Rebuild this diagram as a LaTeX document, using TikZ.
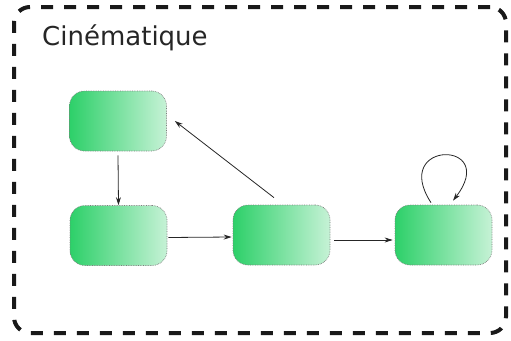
\documentclass[tikz,border=0pt]{standalone}
\usepackage{fontspec}
\setmainfont{DejaVu Sans}
\usetikzlibrary{arrows.meta,calc}
\definecolor{gL}{RGB}{45,208,105}
\definecolor{gR}{RGB}{198,242,214}
\definecolor{edgegray}{RGB}{125,125,125}
\tikzset{
  state/.style={rounded corners=15pt, minimum width=97pt, minimum height=60pt, inner sep=0pt,
    left color=gL, right color=gR, draw=edgegray, densely dotted, line width=0.7pt},
  conn/.style={-{Stealth[length=8pt,width=5pt]}, line width=0.8pt, draw=black!85, solid},
  frame/.style={draw=black!90, line width=4pt, dash pattern=on 12pt off 11pt, rounded corners=16pt,
    minimum width=492pt, minimum height=326pt, inner sep=0pt}
}
\begin{document}
\begin{tikzpicture}[x=1pt,y=-1pt]
\useasboundingbox (0,0) rectangle (511,340);
\node[frame] (frame) at (260,170) {};
\node[anchor=base west, inner sep=0pt, font=\fontsize{26}{30}\selectfont, text=black!85] (title) at (42,45) {Cinématique};
\node[state] (A) at (118,121) {};
\node[state] (B) at (118.5,235.5) {};
\node[state] (C) at (281.5,235) {};
\node[state] (D) at (443.5,235) {};
\draw[conn] ($(A.south)+(0,4)$) -- (B.north);
\draw[conn] ($(B.east)+(1,2)$) -- ($(C.west)+(-1,2)$);
\draw[conn] ($(C.east)+(4,5)$) -- ($(D.west)+(-2,5)$);
\draw[conn] ($(C.north)+(-7.5,-7)$) -- ($(A.east)+(8,0)$);
\draw[conn] ($(D.north)+(-12.5,-2)$) .. controls ($(D.north)+(-53.5,-65)$) and ($(D.north)+(56.5,-65)$) .. ($(D.north)+(9.5,-4)$);
\end{tikzpicture}
\end{document}
